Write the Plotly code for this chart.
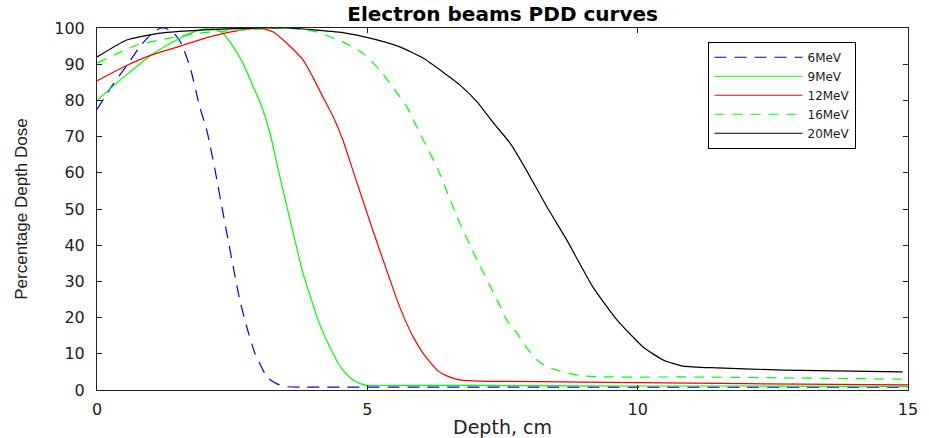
import plotly.graph_objects as go

# Depth (cm) / percentage depth dose samples for each electron energy
depth_6 = [0, 0.3, 0.57, 0.8, 1.0, 1.12, 1.22, 1.32, 1.42, 1.55, 1.72, 1.9, 2.03, 2.18, 2.33,
           2.52, 2.64, 2.77, 2.92, 3.07, 3.16, 3.33, 3.53, 3.8, 6.0, 8.0, 10.0, 12.0, 15.0]
pdd_6 = [77.5, 84.5, 90, 95, 98.3, 99.6, 100, 99.6, 98.6, 96, 89.3, 78.2, 71.8, 61, 49,
         34, 24.9, 17.4, 10.2, 5.5, 3.3, 1.7, 0.9, 0.8, 0.8, 0.8, 0.8, 0.8, 0.8]

depth_9 = [0, 0.5, 1.0, 1.5, 1.8, 2.09, 2.33, 2.52, 2.70, 2.89, 3.05, 3.2, 3.35, 3.57, 3.81,
           4.09, 4.22, 4.37, 4.46, 4.6, 4.73, 4.88, 5.0, 6.0, 8.0, 10.0, 12.0, 15.0]
pdd_9 = [80, 86.5, 92.5, 96.9, 99, 100, 98.6, 94.8, 90.3, 83.8, 78.2, 71, 61, 47, 32.3,
         19.3, 14.6, 10, 7.4, 4.6, 2.8, 1.7, 1.3, 1.3, 1.2, 1.1, 1.1, 1.0]

depth_12 = [0, 0.5, 1.0, 1.5, 2.0, 2.5, 3.0, 3.26, 3.51, 3.81, 3.99, 4.18, 4.37, 4.55, 4.73,
            5.1, 5.42, 5.55, 5.7, 5.85, 6.03, 6.29, 6.47, 6.71, 6.95, 7.27, 9.0, 11.0, 13.0, 15.0]
pdd_12 = [85.4, 89.3, 92.5, 94.8, 97.2, 99, 100, 98.9, 95.8, 91.2, 86.5, 80.9, 75.4, 69, 60.8,
          44.2, 30.4, 24.9, 19.3, 14.6, 10.2, 5.5, 3.9, 2.8, 2.5, 2.4, 2.2, 1.9, 1.6, 1.4]

depth_16 = [0, 0.74, 1.9, 3.0, 3.5, 4.07, 4.55, 4.92, 5.23, 5.47, 5.73, 5.97, 6.31, 6.66, 7.03,
            7.4, 7.58, 7.77, 7.95, 8.14, 8.3, 8.5, 8.75, 8.99, 9.5, 11.0, 13.0, 15.0]
pdd_16 = [90.3, 95.3, 98.6, 99.7, 100, 98.9, 96.1, 93, 88.4, 83.7, 78.2, 71, 60.8, 47.8, 35.9,
          24.9, 19.3, 15.7, 11.6, 8.3, 6.6, 5.5, 4.5, 3.9, 3.6, 3.6, 3.3, 3.0]

depth_20 = [0, 0.55, 1.17, 2.0, 3.0, 3.5, 4.07, 4.6, 5.05, 5.6, 6.03, 6.4, 6.71, 7.03, 7.32,
            7.64, 7.92, 8.32, 8.69, 9.17, 9.62, 10.1, 10.47, 10.84, 11.47, 12.7, 14.9]
pdd_20 = [92, 96.7, 98.6, 99.5, 100, 100, 99.4, 98.6, 97.2, 94.8, 91.7, 87.8, 84.3, 79.6, 74,
          68.2, 61.3, 50.6, 41.4, 28.5, 19.3, 11.9, 8.3, 6.6, 6.1, 5.5, 5.0]

x_ticks = [0, 5, 10, 15]
y_ticks = [0, 10, 20, 30, 40, 50, 60, 70, 80, 90, 100]

series = [
    ("6MeV", depth_6, pdd_6, "#0000ff", "12px,8px"),
    ("9MeV", depth_9, pdd_9, "#00ff00", "solid"),
    ("12MeV", depth_12, pdd_12, "#ff0000", "solid"),
    ("16MeV", depth_16, pdd_16, "#00ff00", "10px,8px"),
    ("20MeV", depth_20, pdd_20, "#000000", "solid"),
]

fig = go.Figure()
for name, xs, ys, color, dash in series:
    fig.add_trace(go.Scatter(
        x=xs, y=ys, name=name, mode="lines",
        line=dict(color=color, width=1.2, dash=dash, shape="spline", smoothing=0.5),
    ))

tick_font = dict(family="DejaVu Sans", size=16, color="#222222")

fig.update_layout(
    width=929, height=438,
    margin=dict(l=97, r=21, t=28, b=48),
    paper_bgcolor="white", plot_bgcolor="white",
    title=dict(text="<b>Electron beams PDD curves</b>", x=0.541, xanchor="center",
               y=0.968, yanchor="middle",
               font=dict(family="DejaVu Sans", size=20, color="#000000")),
    legend=dict(x=0.754, y=0.962, xanchor="left", yanchor="top",
                bordercolor="#000000", borderwidth=1, bgcolor="white",
                font=dict(family="DejaVu Sans", size=12, color="#222222"),
                tracegroupgap=0, itemwidth=88),
    showlegend=True,
)

fig.update_xaxes(
    range=[0, 15], tickvals=x_ticks, ticktext=[str(v) for v in x_ticks],
    ticks="inside", ticklen=5, tickcolor="#222222",
    showline=True, linecolor="#222222", linewidth=1, mirror="ticks",
    showgrid=False, zeroline=False, tickfont=tick_font, ticklabelstandoff=5,
    automargin=False,
    title=dict(text="Depth, cm", font=dict(family="DejaVu Sans", size=19, color="#222222"),
               standoff=3),
)
fig.update_yaxes(
    range=[0, 100], tickvals=y_ticks, ticktext=[str(v) for v in y_ticks],
    ticks="inside", ticklen=5, tickcolor="#222222",
    showline=True, linecolor="#222222", linewidth=1, mirror="ticks",
    showgrid=False, zeroline=False, tickfont=tick_font, ticklabelstandoff=8,
    automargin=False,
    title=dict(text="Percentage Depth Dose",
               font=dict(family="Liberation Sans", size=17, color="#222222"),
               standoff=22),
)

fig.write_html("out.html")
